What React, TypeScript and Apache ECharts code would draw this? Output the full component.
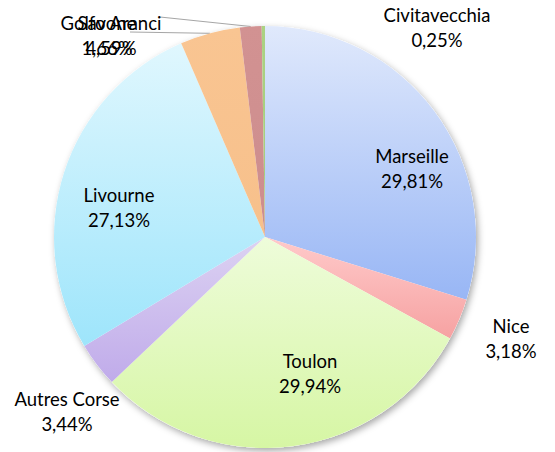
import React, { useEffect, useRef } from "react";
import * as echarts from "echarts";

const ports = ["Marseille", "Nice", "Toulon", "Autres Corse", "Livourne", "Golfo Aranci", "Savone", "Civitavecchia"];
const shares = [29.81, 3.18, 29.94, 3.44, 27.13, 4.59, 1.66, 0.25];
const topColors = ["#e0e9fc", "#ffcaca", "#eefcda", "#dcd2f2", "#e0f7fe", "#f9c592", "#d29292", "#abd283"];
const bottomColors = ["#98b6f5", "#f6a2a2", "#d6f6a4", "#c0abea", "#9ee5fb", "#f7c08b", "#cd8d8d", "#a4cc7d"];

const labelSpots: number[][] = [[412, 168], [511, 338], [310, 373], [67, 411], [119, 207], [111, 35], [107, 35], [437, 27]];
const leaderEnds: (number[] | null)[] = [null, null, null, null, null, [130, 32], [160, 17], null];

const fmt = (v: number) => v.toFixed(2).replace(".", ",") + "%";

export default function App() {
  const ref = useRef<HTMLDivElement>(null);
  useEffect(() => {
    if (!ref.current) return;
    document.body.style.margin = "0";
    const chart = echarts.init(ref.current, null, { renderer: "svg" });
    chart.setOption({
      animation: false,
      series: [
        {
          type: "pie",
          silent: true,
          center: [265, 237],
          radius: 211,
          z: 1,
          label: { show: false },
          labelLine: { show: false },
          itemStyle: {
            color: "#ffffff",
            shadowBlur: 7,
            shadowOffsetX: 2,
            shadowOffsetY: 3,
            shadowColor: "rgba(0,0,0,0.35)",
          },
          data: [{ value: 1, name: "bg" }],
        },
        {
          type: "pie",
          z: 2,
          center: [265, 237],
          radius: 211,
          startAngle: 90,
          clockwise: true,
          avoidLabelOverlap: false,
          emphasis: { disabled: true },
          label: {
            show: true,
            position: "outside",
            formatter: (p: any) => `${p.name}\n${fmt(p.value)}`,
            fontFamily: "Lato",
            fontSize: 18.5,
            lineHeight: 25,
            color: "#000000",
            align: "center",
          },
          labelLine: {
            show: true,
            length: 10,
            length2: 10,
            lineStyle: { color: "#a6a6a6", width: 1 },
          },
          labelLayout: (params: any) => {
            const i = params.dataIndex;
            const [x, y] = labelSpots[i];
            const o: any = { x, y, align: "center", verticalAlign: "middle" };
            const end = leaderEnds[i];
            if (end && params.labelLinePoints) {
              o.labelLinePoints = [params.labelLinePoints[0], end];
            }
            return o;
          },
          data: ports.map((name, i) => ({
            name,
            value: shares[i],
            labelLine: { show: leaderEnds[i] != null },
            itemStyle: {
              color: {
                type: "linear",
                x: 0,
                y: 0,
                x2: 0,
                y2: 1,
                colorStops: [
                  { offset: 0, color: topColors[i] },
                  { offset: 1, color: bottomColors[i] },
                ],
              },
            },
          })),
        },
      ],
    });
    return () => chart.dispose();
  }, []);
  return <div ref={ref} style={{ width: 555, height: 452 }} />;
}
